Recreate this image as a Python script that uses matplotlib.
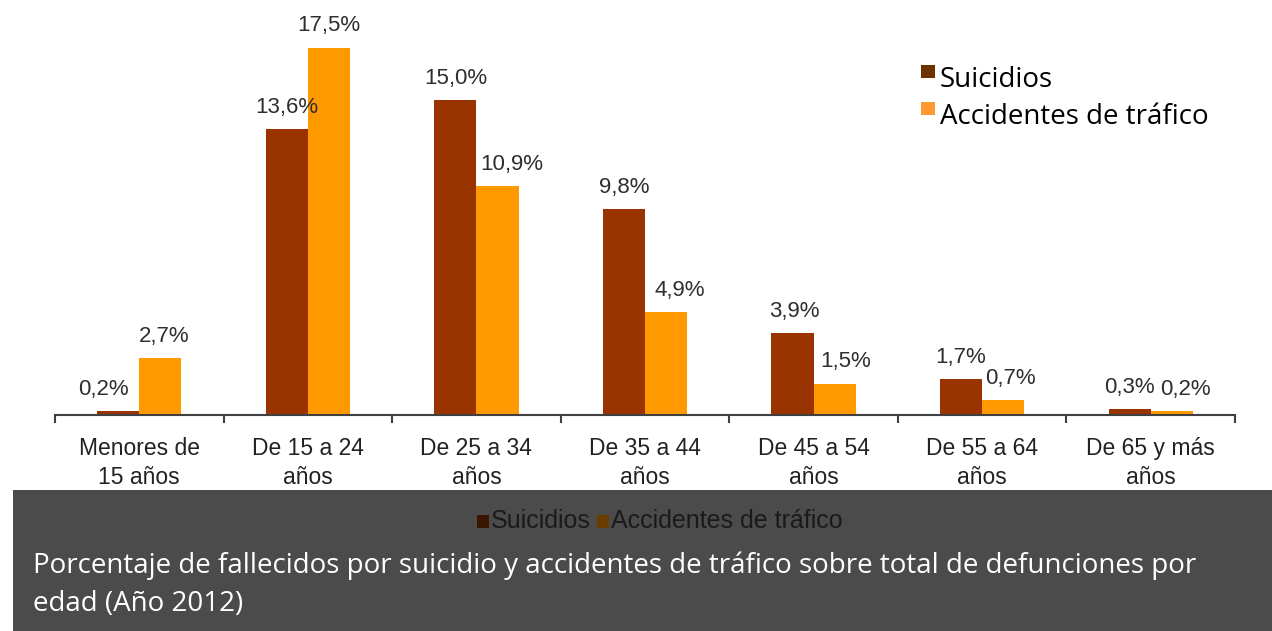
import matplotlib.pyplot as plt
from matplotlib.patches import Rectangle

categorias = ["Menores de\n15 años", "De 15 a 24\naños", "De 25 a 34\naños", "De 35 a 44\naños",
              "De 45 a 54\naños", "De 55 a 64\naños", "De 65 y más\naños"]
suicidios = [0.2, 13.6, 15.0, 9.8, 3.9, 1.7, 0.3]
accidentes = [2.7, 17.5, 10.9, 4.9, 1.5, 0.7, 0.2]
etiquetas_s = ["0,2%", "13,6%", "15,0%", "9,8%", "3,9%", "1,7%", "0,3%"]
etiquetas_a = ["2,7%", "17,5%", "10,9%", "4,9%", "1,5%", "0,7%", "0,2%"]

c_sui = "#993300"
c_acc = "#FF9900"
W, H = 1272, 631

fig = plt.figure(figsize=(W / 100, H / 100), dpi=100)
fig.patch.set_facecolor("white")

# bottom grey band with caption
band = Rectangle((13 / W, 0), 1 - 13 / W, (H - 490) / H, transform=fig.transFigure,
                 facecolor="#4b4b4b", edgecolor="none", zorder=0)
fig.patches.append(band)

ax = fig.add_axes([55 / W, (H - 415) / H, (1235 - 55) / W, 415 / H])
ax.set_facecolor("none")
x = range(len(categorias))
w = 0.25
ax.bar([i - w / 2 for i in x], suicidios, w, color=c_sui, zorder=2)
ax.bar([i + w / 2 for i in x], accidentes, w, color=c_acc, zorder=2)

ax.set_xlim(-0.5, len(categorias) - 0.5)
ax.set_ylim(0, 415 / 21)
for s in ["top", "right", "left"]:
    ax.spines[s].set_visible(False)
ax.spines["bottom"].set_color("#404040")
ax.spines["bottom"].set_linewidth(1.5)
ax.set_yticks([])
ax.set_xticks(list(x))
ax.set_xticklabels(categorias, fontsize=16.5, color="#222222", family="Liberation Sans", linespacing=1.3)
ax.tick_params(axis="x", which="major", length=0, pad=16)
ax.set_xticks([i - 0.5 for i in range(len(categorias) + 1)], minor=True)
ax.tick_params(axis="x", which="minor", length=6, width=1.5, color="#404040")

# labels nudged sideways where they would collide, like the original
dx_s = [-0.09, 0, 0, 0, 0.01, 0, 0]
dx_a = [0.025, 0, 0.083, 0.083, 0.065, 0.04, 0.083]
for i in x:
    ax.annotate(etiquetas_s[i], (i - w / 2 + dx_s[i], suicidios[i]), xytext=(0, 8), textcoords="offset points",
                ha="center", va="bottom", fontsize=16, color="#2e2e2e", family="Liberation Sans")
    ax.annotate(etiquetas_a[i], (i + w / 2 + dx_a[i], accidentes[i]), xytext=(0, 8), textcoords="offset points",
                ha="center", va="bottom", fontsize=16, color="#2e2e2e", family="Liberation Sans")

# top-right legend
for yy, col, txt in [(80, "#6E3200", "Suicidios"), (117, "#FF9933", "Accidentes de tráfico")]:
    fig.patches.append(Rectangle((921 / W, 1 - (yy - 2) / H), 14 / W, 13 / H, transform=fig.transFigure,
                                 facecolor=col, edgecolor="none"))
    fig.text(940 / W, 1 - yy / H, txt, fontsize=20, color="black", family="Open Sans", va="center")

# legend inside the band
fig.patches.append(Rectangle((477 / W, 1 - 528 / H), 12 / W, 13 / H, transform=fig.transFigure,
                             facecolor="#3a1500", edgecolor="none"))
fig.text(491 / W, 1 - 521 / H, "Suicidios", fontsize=18, color="#1a1a1a", family="Liberation Sans", va="center")
fig.patches.append(Rectangle((597 / W, 1 - 528 / H), 12 / W, 13 / H, transform=fig.transFigure,
                             facecolor="#6b3c00", edgecolor="none"))
fig.text(611 / W, 1 - 521 / H, "Accidentes de tráfico", fontsize=18, color="#1a1a1a", family="Liberation Sans", va="center")

fig.text(33 / W, 1 - 566 / H,
         "Porcentaje de fallecidos por suicidio y accidentes de tráfico sobre total de defunciones por",
         fontsize=20, color="white", family="Open Sans", va="center")
fig.text(33 / W, 1 - 604 / H, "edad (Año 2012)", fontsize=20, color="white", family="Open Sans", va="center")

fig.savefig("out.png", dpi=100)
